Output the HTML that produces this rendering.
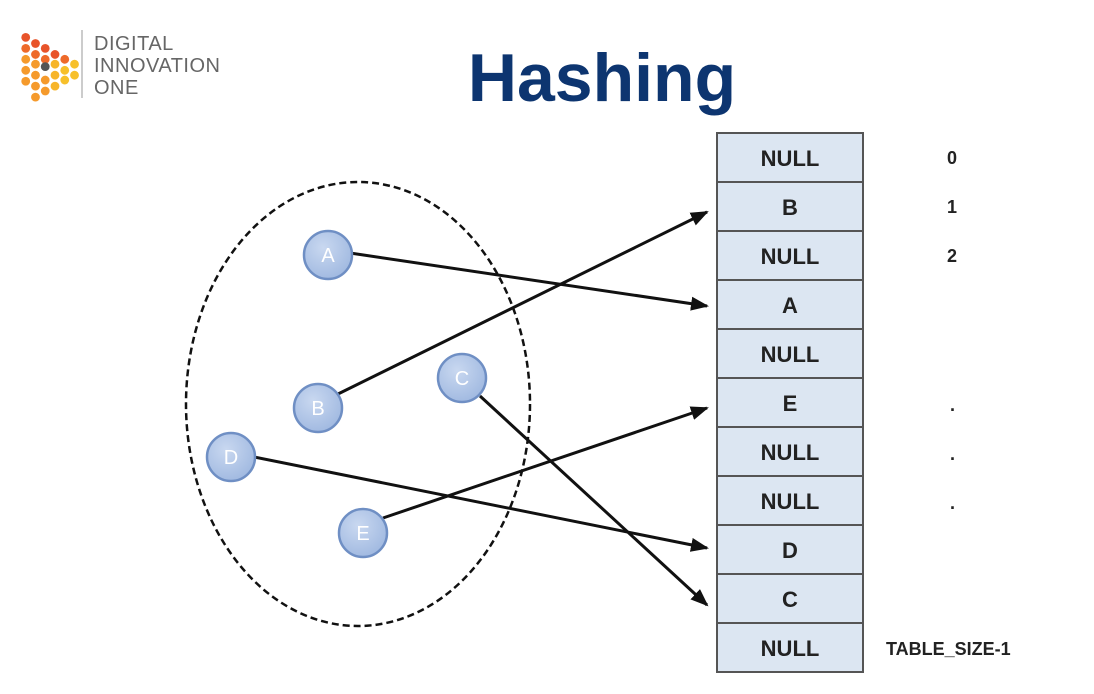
<!DOCTYPE html>
<html><head><meta charset="utf-8"><style>
body{margin:0;width:1094px;height:689px;background:#fff;overflow:hidden;font-family:"Liberation Sans",sans-serif}
</style></head><body>
<svg width="1094" height="689" xmlns="http://www.w3.org/2000/svg">
<defs><marker id="ar" markerWidth="18" markerHeight="14" refX="16" refY="7" orient="auto" markerUnits="userSpaceOnUse" viewBox="0 0 18 14"><path d="M0,0 L18,7 L0,14 z" fill="#111"/></marker>
<radialGradient id="ng" cx="0.4" cy="0.35" r="0.7"><stop offset="0" stop-color="#c9d8f0"/><stop offset="1" stop-color="#9fb8e0"/></radialGradient></defs>
<!-- logo -->
<g fill="#f59a2c" transform="translate(-6,-9) scale(1.22)">
<circle cx="26" cy="38" r="3.6" fill="#e8542a"/><circle cx="34" cy="43" r="3.6" fill="#e8542a"/><circle cx="42" cy="47" r="3.6" fill="#e8542a"/><circle cx="50" cy="52" r="3.6" fill="#e8542a"/><circle cx="58" cy="56" r="3.6" fill="#ee6a2a"/>
<circle cx="26" cy="47" r="3.6" fill="#ee6a2a"/><circle cx="34" cy="52" r="3.6" fill="#ee6a2a"/><circle cx="42" cy="56" r="3.6" fill="#ee6a2a"/><circle cx="50" cy="60" r="3.6" fill="#f7b52a"/><circle cx="58" cy="65" r="3.6" fill="#f7c02a"/><circle cx="66" cy="60" r="3.6" fill="#f7c02a"/><circle cx="66" cy="69" r="3.6" fill="#f7c02a"/>
<circle cx="26" cy="56" r="3.6"/><circle cx="34" cy="60" r="3.6"/><circle cx="42" cy="62" r="3.6" fill="#555"/><circle cx="50" cy="69" r="3.6" fill="#f7b52a"/><circle cx="58" cy="73" r="3.6" fill="#f7c02a"/>
<circle cx="26" cy="65" r="3.6"/><circle cx="34" cy="69" r="3.6"/><circle cx="42" cy="73" r="3.6"/><circle cx="50" cy="78" r="3.6" fill="#f7b52a"/>
<circle cx="26" cy="74" r="3.6"/><circle cx="34" cy="78" r="3.6"/><circle cx="42" cy="82" r="3.6"/><circle cx="34" cy="87" r="3.6"/>
</g>
<line x1="82" y1="30" x2="82" y2="98" stroke="#bbb" stroke-width="1.5"/>
<text x="94" y="50" font-size="20" fill="#666" letter-spacing="0.5">DIGITAL</text>
<text x="94" y="72" font-size="20" fill="#666" letter-spacing="0.5">INNOVATION</text>
<text x="94" y="94" font-size="20" fill="#666" letter-spacing="0.5">ONE</text>
<text x="602" y="101" font-size="68" font-weight="bold" fill="#0d3570" text-anchor="middle">Hashing</text>
<!-- ellipse -->
<ellipse cx="358" cy="404" rx="172" ry="222" fill="none" stroke="#111" stroke-width="2.5" stroke-dasharray="7,4"/>
<!-- table -->
<g font-size="22" font-weight="bold" fill="#222" text-anchor="middle">
<rect x="717" y="133" width="146" height="539" fill="#dce6f2" stroke="#555" stroke-width="2"/>
<g stroke="#555" stroke-width="2">
<line x1="717" y1="182" x2="863" y2="182"/><line x1="717" y1="231" x2="863" y2="231"/><line x1="717" y1="280" x2="863" y2="280"/><line x1="717" y1="329" x2="863" y2="329"/><line x1="717" y1="378" x2="863" y2="378"/><line x1="717" y1="427" x2="863" y2="427"/><line x1="717" y1="476" x2="863" y2="476"/><line x1="717" y1="525" x2="863" y2="525"/><line x1="717" y1="574" x2="863" y2="574"/><line x1="717" y1="623" x2="863" y2="623"/>
</g>
<text x="790" y="166">NULL</text><text x="790" y="215">B</text><text x="790" y="264">NULL</text><text x="790" y="313">A</text><text x="790" y="362">NULL</text><text x="790" y="411">E</text><text x="790" y="460">NULL</text><text x="790" y="509">NULL</text><text x="790" y="558">D</text><text x="790" y="607">C</text><text x="790" y="656">NULL</text>
</g>
<g font-size="18" font-weight="bold" fill="#222">
<text x="947" y="164">0</text><text x="947" y="213">1</text><text x="947" y="262">2</text>
<text x="950" y="411">.</text><text x="950" y="460">.</text><text x="950" y="509">.</text>
<text x="886" y="655">TABLE_SIZE-1</text>
</g>
<!-- arrows -->
<g stroke="#111" stroke-width="3" marker-end="url(#ar)">
<line x1="350" y1="253" x2="707" y2="306"/>
<line x1="338" y1="394" x2="707" y2="212"/>
<line x1="480" y1="396" x2="707" y2="605"/>
<line x1="254" y1="457" x2="707" y2="548"/>
<line x1="383" y1="518" x2="707" y2="408"/>
</g>
<!-- nodes -->
<g stroke="#6f8fc4" stroke-width="2.5" fill="url(#ng)">
<circle cx="328" cy="255" r="24"/><circle cx="318" cy="408" r="24"/><circle cx="462" cy="378" r="24"/><circle cx="231" cy="457" r="24"/><circle cx="363" cy="533" r="24"/>
</g>
<g font-size="20" fill="#fff" text-anchor="middle">
<text x="328" y="262">A</text><text x="318" y="415">B</text><text x="462" y="385">C</text><text x="231" y="464">D</text><text x="363" y="540">E</text>
</g>
</svg>
</body></html>
